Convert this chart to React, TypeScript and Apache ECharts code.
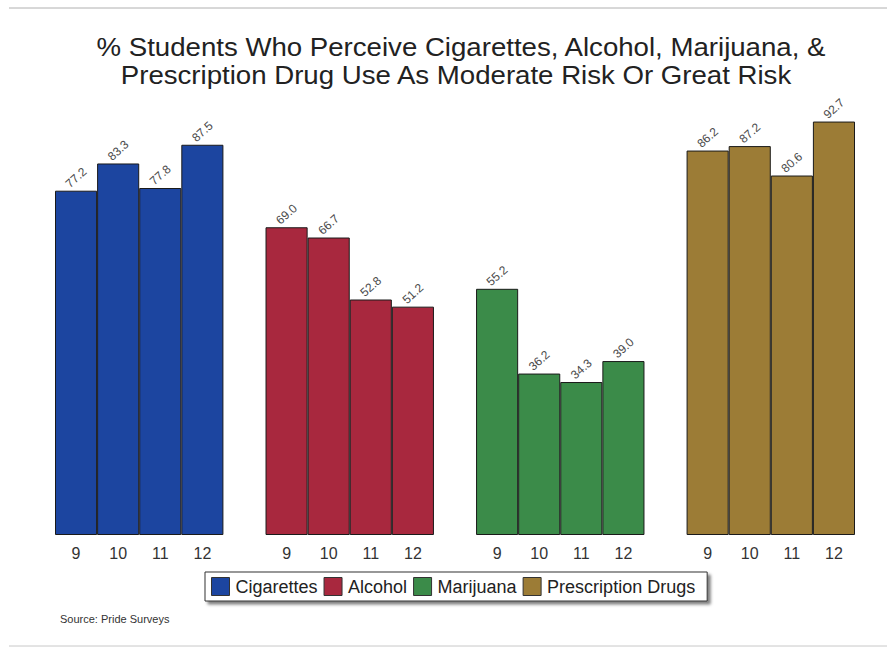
import React, { useEffect, useRef } from "react";
import * as echarts from "echarts";

const groups = ["Cigarettes", "Alcohol", "Marijuana", "Prescription Drugs"];
const grades = ["9", "10", "11", "12"];
const cigarettes = [77.2, 83.3, 77.8, 87.5];
const alcohol = [69.0, 66.7, 52.8, 51.2];
const marijuana = [55.2, 36.2, 34.3, 39.0];
const prescription = [86.2, 87.2, 80.6, 92.7];
const colors = ["#1c45a0", "#a8283e", "#3b8b49", "#9c7c36"];
const titleLines = [
  "% Students Who Perceive Cigarettes, Alcohol, Marijuana, &",
  "Prescription Drug Use As Moderate Risk Or Great Risk",
];
const sourceText = "Source: Pride Surveys";

const FONT = "Liberation Sans, Arial, sans-serif";

export default function App() {
  const ref = useRef<HTMLDivElement>(null);
  useEffect(() => {
    if (!ref.current) return;
    const chart = echarts.init(ref.current, null, { renderer: "svg" });
    const values = [cigarettes, alcohol, marijuana, prescription];
    // build category slots: 4 bars per group, one blank slot between groups
    const categories: string[] = [];
    groups.forEach((g, gi) => {
      grades.forEach((gr) => categories.push(`${gi}-${gr}`));
      if (gi < groups.length - 1) categories.push(`gap${gi}`);
    });
    const series = groups.map((g, gi) => {
      const data = categories.map((c) => {
        const parts = c.split("-");
        if (parts.length === 2 && Number(parts[0]) === gi) {
          return values[gi][grades.indexOf(parts[1])];
        }
        return null;
      });
      return {
        name: g,
        type: "bar",
        stack: "all",
        barWidth: "100%",
        data,
        itemStyle: { color: colors[gi], borderColor: "#1a1a1a", borderWidth: 1 },
        label: {
          show: true,
          position: "top",
          rotate: 42,
          distance: 13,
          align: "center",
          verticalAlign: "middle",
          fontFamily: FONT,
          fontSize: 12,
          color: "#4a4a4a",
          formatter: (p: any) => Number(p.value).toFixed(1),
        },
      };
    });
    chart.setOption({
      animation: false,
      backgroundColor: "#ffffff",
      legend: {
        data: groups,
        icon: "rect",
        left: 205,
        top: 572,
        orient: "horizontal",
        itemWidth: 18,
        itemHeight: 18,
        itemGap: 6,
        padding: [5, 12, 5, 6],
        backgroundColor: "#fff",
        borderColor: "#333",
        borderWidth: 1,
        shadowColor: "rgba(0,0,0,0.5)",
        shadowBlur: 3,
        shadowOffsetX: 3,
        shadowOffsetY: 3,
        itemStyle: { borderColor: "#333", borderWidth: 1 },
        textStyle: {
          fontFamily: FONT,
          fontSize: 18,
          color: "#222",
          padding: [0, 0, 0, 1],
        },
      },
      grid: { left: 55, right: 32, top: 89, bottom: 113, containLabel: false },
      xAxis: {
        type: "category",
        data: categories,
        axisLine: { show: false },
        axisTick: { show: false },
        axisLabel: {
          interval: 0,
          margin: 10,
          fontFamily: FONT,
          fontSize: 16,
          color: "#333",
          formatter: (v: string) => (v.startsWith("gap") ? "" : v.split("-")[1]),
        },
      },
      yAxis: {
        type: "value",
        min: 0,
        max: 100,
        show: false,
        splitLine: { show: false },
      },
      series,
      graphic: [
        {
          type: "text",
          x: 461,
          y: 47,
          originX: 0,
          scaleX: 1.105,
          style: {
            text: titleLines[0],
            x: 0,
            y: 0,
            align: "center",
            verticalAlign: "middle",
            fontFamily: FONT,
            fontSize: 25,
            fill: "#222",
          },
        },
        {
          type: "text",
          x: 456,
          y: 75,
          originX: 0,
          scaleX: 1.105,
          style: {
            text: titleLines[1],
            x: 0,
            y: 0,
            align: "center",
            verticalAlign: "middle",
            fontFamily: FONT,
            fontSize: 25,
            fill: "#222",
          },
        },
        {
          type: "line",
          shape: { x1: 9, y1: 8, x2: 887, y2: 8 },
          style: { stroke: "#b0b0b0", lineWidth: 1 },
        },
        {
          type: "line",
          shape: { x1: 9.5, y1: 8, x2: 9.5, y2: 648 },
          style: {
            stroke: "#a0a0a0",
            lineWidth: 1,
            shadowColor: "rgba(0,0,0,0.35)",
            shadowBlur: 5,
            shadowOffsetX: -2,
          },
        },
        {
          type: "line",
          shape: { x1: 9, y1: 646, x2: 887, y2: 646 },
          style: { stroke: "#c8c8c8", lineWidth: 1 },
        },
        {
          type: "text",
          left: 60,
          top: 613,
          style: {
            text: sourceText,
            fontFamily: FONT,
            fontSize: 11,
            fill: "#333",
          },
        },
      ],
    });
    return () => chart.dispose();
  }, []);
  return (
    <div
      ref={ref}
      style={{ position: "fixed", left: 0, top: 0, width: 887, height: 648 }}
    />
  );
}
